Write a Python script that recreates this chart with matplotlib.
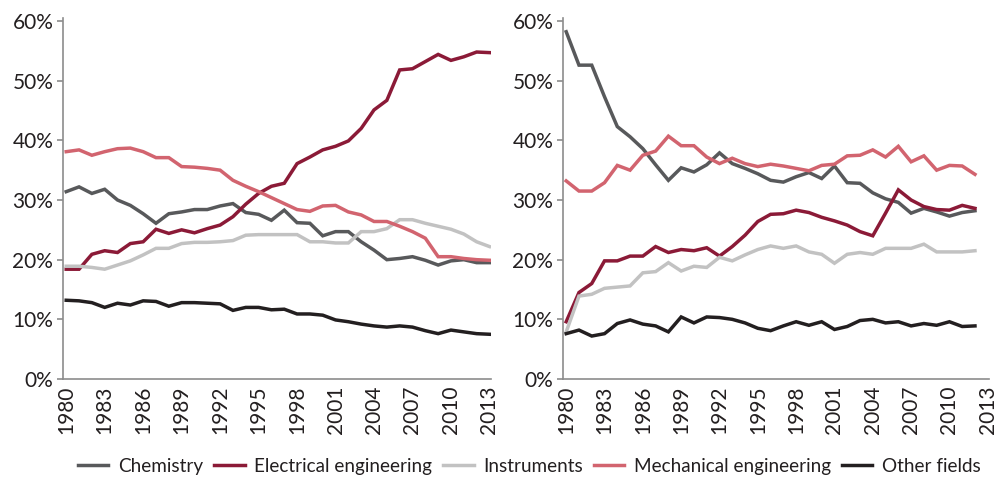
import numpy as np
import matplotlib as mpl
mpl.use('Agg')
import matplotlib.pyplot as plt
from matplotlib.ticker import FuncFormatter

plt.rcParams['font.family'] = ['Lato', 'DejaVu Sans']

# Left panel: 1980-2013
years_l = list(range(1980, 2014))
chem_l = [31.4, 32.2, 31.1, 31.8, 30.0, 29.1, 27.7, 26.1, 27.7, 28.0, 28.4, 28.4, 29.0, 29.4,
          27.9, 27.6, 26.6, 28.3, 26.2, 26.1, 24.0, 24.7, 24.7, 23.0, 21.6, 20.0, 20.2, 20.5,
          19.9, 19.1, 19.8, 20.0, 19.5, 19.5]
elec_l = [18.4, 18.4, 20.9, 21.5, 21.2, 22.7, 23.0, 25.1, 24.4, 25.0, 24.5, 25.2, 25.8, 27.2,
          29.3, 31.1, 32.3, 32.8, 36.1, 37.2, 38.4, 39.0, 39.9, 42.0, 45.1, 46.7, 51.8, 52.0,
          53.2, 54.4, 53.4, 54.0, 54.8, 54.7]
inst_l = [18.9, 18.9, 18.7, 18.4, 19.1, 19.8, 20.8, 21.9, 21.9, 22.7, 22.9, 22.9, 23.0, 23.2,
          24.1, 24.2, 24.2, 24.2, 24.2, 23.0, 23.0, 22.8, 22.8, 24.7, 24.7, 25.2, 26.7, 26.7,
          26.1, 25.6, 25.1, 24.3, 23.0, 22.2]
mech_l = [38.1, 38.4, 37.5, 38.1, 38.6, 38.7, 38.1, 37.1, 37.1, 35.6, 35.5, 35.3, 35.0, 33.3,
          32.3, 31.4, 30.4, 29.4, 28.4, 28.1, 29.0, 29.1, 28.0, 27.5, 26.4, 26.4, 25.6, 24.7,
          23.6, 20.5, 20.5, 20.2, 20.0, 19.9]
other_l = [13.2, 13.1, 12.8, 12.0, 12.7, 12.4, 13.1, 13.0, 12.2, 12.8, 12.8, 12.7, 12.6, 11.5,
           12.0, 12.0, 11.6, 11.7, 10.9, 10.9, 10.7, 9.9, 9.6, 9.2, 8.9, 8.7, 8.9, 8.7,
           8.1, 7.6, 8.2, 7.9, 7.6, 7.5]

# Right panel: 1980-2012
years_r = list(range(1980, 2013))
chem_r = [58.2, 52.6, 52.6, 47.3, 42.3, 40.6, 38.6, 35.9, 33.3, 35.4, 34.7, 35.9, 37.9, 36.1,
          35.3, 34.4, 33.3, 33.0, 33.9, 34.6, 33.6, 35.7, 32.9, 32.8, 31.2, 30.2, 29.6, 27.8,
          28.6, 28.0, 27.3, 27.9, 28.2]
elec_r = [9.6, 14.5, 16.0, 19.8, 19.8, 20.6, 20.6, 22.2, 21.2, 21.7, 21.5, 22.0, 20.6, 22.2,
          24.1, 26.4, 27.6, 27.7, 28.3, 27.9, 27.1, 26.5, 25.8, 24.7, 24.0, 27.8, 31.7, 30.0,
          28.9, 28.4, 28.3, 29.1, 28.6]
inst_r = [7.9, 13.9, 14.2, 15.2, 15.4, 15.6, 17.8, 18.0, 19.5, 18.1, 18.9, 18.7, 20.4, 19.8,
          20.8, 21.7, 22.3, 21.9, 22.3, 21.3, 20.9, 19.4, 20.9, 21.2, 20.9, 21.9, 21.9, 21.9,
          22.6, 21.3, 21.3, 21.3, 21.5]
mech_r = [33.2, 31.5, 31.5, 32.9, 35.8, 35.0, 37.5, 38.2, 40.7, 39.1, 39.1, 37.2, 36.1, 37.0,
          36.1, 35.6, 36.0, 35.7, 35.3, 34.9, 35.8, 36.0, 37.4, 37.5, 38.4, 37.2, 39.0, 36.4,
          37.4, 35.0, 35.8, 35.7, 34.3]
other_r = [7.6, 8.2, 7.2, 7.6, 9.3, 9.9, 9.2, 8.9, 7.9, 10.4, 9.4, 10.4, 10.3, 10.0,
           9.4, 8.5, 8.1, 8.9, 9.6, 9.0, 9.6, 8.3, 8.8, 9.8, 10.0, 9.4, 9.6, 8.9,
           9.3, 9.0, 9.6, 8.8, 8.9]

names = ["Chemistry", "Electrical engineering", "Instruments",
         "Mechanical engineering", "Other fields"]
colors = ["#58595b", "#8b1a37", "#c2c2c2", "#d2646f", "#231f20"]
tick_years = list(range(1980, 2014, 3))

fig = plt.figure(figsize=(9.97, 4.83), dpi=100)
ax1 = fig.add_axes([0.0632, 0.2153, 0.429, 0.7474])
ax2 = fig.add_axes([0.5647, 0.2153, 0.4273, 0.7474])

panels = [(ax1, years_l, [chem_l, elec_l, inst_l, mech_l, other_l]),
          (ax2, years_r, [chem_r, elec_r, inst_r, mech_r, other_r])]

for ax, yrs, series in panels:
    for vals, name, col in zip(series, names, colors):
        ax.plot(yrs, vals, color=col, lw=2.5, label=name, solid_joinstyle='miter')
    ax.set_xlim(1979.75, 2013.1)
    ax.set_ylim(0, 60.5)
    ax.set_yticks(range(0, 61, 10))
    ax.yaxis.set_major_formatter(FuncFormatter(lambda v, p: "%d%%" % v))
    ax.set_xticks(tick_years)
    ax.set_xticklabels([str(y) for y in tick_years], rotation=90)
    for s in ['top', 'right']:
        ax.spines[s].set_visible(False)
    for s in ['left', 'bottom']:
        ax.spines[s].set_color('#8c8c8c')
        ax.spines[s].set_linewidth(1.2)
    ax.tick_params(axis='y', length=4, width=1.2, color='#8c8c8c',
                   labelsize=15, labelcolor='#231f20', pad=3)
    ax.tick_params(axis='x', length=0, labelsize=15, labelcolor='#231f20', pad=5)

handles, labels = ax1.get_legend_handles_labels()
fig.legend(handles, labels, loc='center', bbox_to_anchor=(0.531, 0.035), ncol=5,
           frameon=False, fontsize=13.6, handlelength=1.6, handletextpad=0.5,
           columnspacing=0.6, labelcolor='#231f20')

plt.savefig("out.png", dpi=100)
